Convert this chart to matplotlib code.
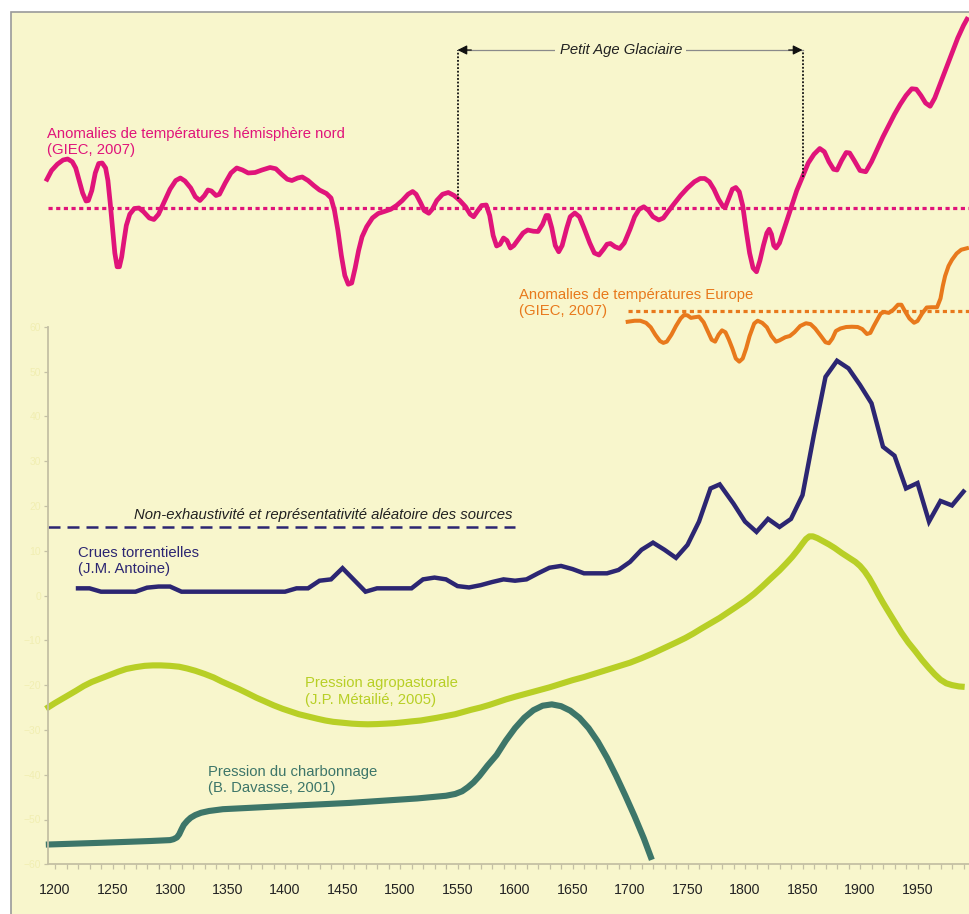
import numpy as np
import matplotlib
matplotlib.use("Agg")
import matplotlib.pyplot as plt
from matplotlib.patches import Rectangle

plt.rcParams['font.family'] = ['Liberation Sans', 'DejaVu Sans']

# ---------------- data ----------------
# Northern hemisphere temperature anomalies (°C, smoothed)
nh_years = [1193, 1197, 1202, 1207, 1211, 1215, 1218, 1221, 1224, 1227, 1229, 1232, 1235, 1238,
            1241, 1244, 1246, 1248, 1250, 1252, 1254, 1256, 1258, 1260, 1262, 1265, 1269, 1273,
            1277, 1282, 1286, 1290, 1295, 1300, 1305, 1309, 1313, 1318, 1322, 1326, 1330, 1333,
            1336, 1340, 1343, 1348, 1353, 1358, 1363, 1368, 1374, 1380, 1387, 1392, 1397, 1402,
            1406, 1411, 1415, 1420, 1425, 1430, 1436, 1440, 1443, 1446, 1449, 1452, 1455, 1458,
            1461, 1464, 1467, 1471, 1476, 1481, 1487, 1492, 1497, 1502, 1507, 1511, 1514, 1518,
            1521, 1525, 1528, 1532, 1537, 1542, 1547, 1552, 1557, 1561, 1564, 1567, 1571, 1575,
            1578, 1581, 1584, 1587, 1590, 1593, 1596, 1599, 1603, 1607, 1611, 1616, 1620, 1624,
            1627, 1629, 1632, 1635, 1638, 1641, 1645, 1648, 1652, 1656, 1660, 1665, 1669, 1673,
            1677, 1680, 1683, 1687, 1691, 1695, 1700, 1704, 1708, 1712, 1716, 1720, 1725, 1729,
            1733, 1738, 1744, 1750, 1756, 1761, 1765, 1769, 1773, 1777, 1781, 1783, 1786, 1789,
            1792, 1795, 1798, 1801, 1804, 1807, 1810, 1813, 1816, 1819, 1821, 1823, 1825, 1827,
            1830, 1835, 1840, 1845, 1850, 1855, 1860, 1865, 1869, 1873, 1877, 1880, 1884, 1888,
            1891, 1895, 1900, 1905, 1910, 1915, 1920, 1925, 1930, 1935, 1940, 1945, 1949, 1953,
            1957, 1961, 1965, 1970, 1975, 1980, 1985, 1990, 1993]
nh_anom = [0.115, 0.150, 0.175, 0.192, 0.196, 0.185, 0.160, 0.110, 0.060, 0.028, 0.030, 0.070,
           0.140, 0.178, 0.180, 0.160, 0.110, 0.020, -0.080, -0.180, -0.235, -0.235, -0.195,
           -0.130, -0.070, -0.025, -0.002, 0.000, -0.015, -0.040, -0.046, -0.025, 0.025, 0.075,
           0.110, 0.120, 0.108, 0.080, 0.045, 0.030, 0.050, 0.072, 0.068, 0.050, 0.055, 0.100,
           0.140, 0.160, 0.152, 0.140, 0.142, 0.152, 0.162, 0.157, 0.135, 0.115, 0.110, 0.120,
           0.124, 0.110, 0.090, 0.072, 0.058, 0.040, -0.010, -0.090, -0.190, -0.270, -0.305,
           -0.300, -0.240, -0.170, -0.115, -0.075, -0.040, -0.022, -0.013, -0.005, 0.010, 0.030,
           0.055, 0.066, 0.055, 0.020, -0.010, -0.021, -0.005, 0.030, 0.055, 0.062, 0.050,
           0.030, 0.005, -0.025, -0.035, -0.015, 0.010, 0.012, -0.030, -0.110, -0.152, -0.145,
           -0.120, -0.130, -0.160, -0.150, -0.125, -0.100, -0.088, -0.093, -0.094, -0.065,
           -0.030, -0.030, -0.080, -0.150, -0.175, -0.150, -0.080, -0.035, -0.020, -0.035,
           -0.080, -0.140, -0.180, -0.188, -0.165, -0.145, -0.142, -0.155, -0.162, -0.140,
           -0.085, -0.035, -0.005, 0.005, -0.010, -0.035, -0.048, -0.040, -0.015, 0.015, 0.050,
           0.080, 0.105, 0.118, 0.118, 0.105, 0.075, 0.035, 0.005, 0.005, 0.040, 0.075, 0.082,
           0.065, 0.010, -0.090, -0.180, -0.240, -0.255, -0.210, -0.150, -0.100, -0.085, -0.105,
           -0.150, -0.160, -0.140, -0.070, 0.000, 0.070, 0.125, 0.180, 0.215, 0.238, 0.225,
           0.185, 0.155, 0.152, 0.190, 0.222, 0.220, 0.190, 0.150, 0.145, 0.185, 0.235, 0.285,
           0.330, 0.375, 0.415, 0.450, 0.477, 0.475, 0.450, 0.420, 0.407, 0.440, 0.500, 0.560,
           0.620, 0.680, 0.730, 0.755]

# European temperature anomalies (°C, smoothed)
eu_years = [1698, 1704, 1709, 1714, 1718, 1722, 1726, 1729, 1732, 1736, 1740, 1744, 1747, 1750,
            1753, 1756, 1760, 1764, 1768, 1771, 1774, 1777, 1780, 1783, 1786, 1789, 1792, 1795,
            1798, 1801, 1804, 1808, 1811, 1815, 1819, 1823, 1827, 1830, 1835, 1839, 1843, 1848,
            1853, 1857, 1861, 1866, 1870, 1873, 1876, 1879, 1883, 1888, 1893, 1898, 1902, 1906,
            1909, 1912, 1915, 1918, 1921, 1925, 1929, 1933, 1936, 1939, 1943, 1947, 1950, 1954,
            1958, 1962, 1967, 1970, 1972, 1974, 1977, 1980, 1984, 1988, 1993]
eu_anom = [-0.086, -0.078, -0.078, -0.095, -0.13, -0.19, -0.24, -0.255, -0.245, -0.19, -0.12,
           -0.06, -0.032, -0.035, -0.055, -0.05, -0.045, -0.09, -0.17, -0.23, -0.245, -0.19,
           -0.155, -0.17, -0.23, -0.30, -0.38, -0.405, -0.38, -0.30, -0.20, -0.10, -0.078,
           -0.095, -0.13, -0.20, -0.245, -0.235, -0.21, -0.20, -0.17, -0.12, -0.098, -0.105,
           -0.14, -0.20, -0.25, -0.258, -0.22, -0.16, -0.14, -0.128, -0.126, -0.128, -0.145,
           -0.184, -0.175, -0.12, -0.07, -0.02, -0.008, -0.015, 0.01, 0.05, 0.05, 0.0, -0.06,
           -0.094, -0.08, -0.02, 0.028, 0.03, 0.03, 0.10, 0.20, 0.28, 0.36, 0.41, 0.46, 0.49,
           0.502]

# Torrential floods (index)
crues_years = [1220, 1230, 1240, 1270, 1280, 1290, 1300, 1310, 1400, 1410, 1420, 1430, 1440,
               1450, 1470, 1480, 1510, 1520, 1530, 1540, 1550, 1560, 1570, 1580, 1590, 1600,
               1610, 1620, 1630, 1640, 1650, 1660, 1680, 1690, 1700, 1710, 1720, 1730, 1740,
               1750, 1760, 1770, 1778, 1790, 1800, 1810, 1820, 1830, 1840, 1850, 1860, 1870,
               1880, 1890, 1900, 1910, 1920, 1930, 1940, 1950, 1960, 1970, 1980, 1990]
crues_vals = [1.6, 1.6, 0.85, 0.85, 1.75, 2.0, 2.0, 0.85, 0.85, 1.6, 1.6, 3.3, 3.6, 6.1, 0.85,
              1.6, 1.6, 3.6, 4.0, 3.6, 2.1, 1.8, 2.3, 3.0, 3.6, 3.3, 3.6, 4.95, 6.2, 6.6, 5.9,
              4.95, 4.95, 5.7, 7.5, 10.2, 11.8, 10.2, 8.4, 11.3, 16.5, 23.9, 24.8, 20.5, 16.5,
              14.2, 17.1, 15.3, 17.1, 22.4, 36.0, 48.8, 52.4, 50.7, 47.0, 42.9, 33.2, 31.2, 23.9,
              25.1, 16.5, 21.1, 20.1, 23.2]

# Agro-pastoral pressure (index)
agro_years = [1192, 1200, 1210, 1218, 1225, 1232, 1240, 1248, 1255, 1262, 1270, 1278, 1285,
              1292, 1300, 1308, 1315, 1322, 1330, 1338, 1345, 1352, 1360, 1368, 1375, 1383,
              1390, 1398, 1405, 1412, 1420, 1428, 1435, 1442, 1450, 1458, 1465, 1472, 1480,
              1488, 1495, 1503, 1510, 1518, 1525, 1532, 1540, 1548, 1555, 1562, 1570, 1578,
              1585, 1592, 1600, 1610, 1620, 1630, 1640, 1650, 1660, 1670, 1680, 1690, 1700,
              1710, 1720, 1730, 1740, 1748, 1755, 1762, 1770, 1778, 1785, 1792, 1800, 1808,
              1815, 1822, 1830, 1836, 1841, 1846, 1850, 1853, 1856, 1859, 1863, 1868, 1873,
              1878, 1884, 1890, 1896, 1900, 1904, 1908, 1912, 1916, 1920, 1924, 1930, 1936,
              1942, 1948, 1954, 1960, 1965, 1970, 1975, 1980, 1986, 1991]
agro_vals = [-25.3, -24.0, -22.5, -21.3, -20.2, -19.3, -18.5, -17.7, -17.0, -16.4, -16.0, -15.7,
             -15.6, -15.6, -15.7, -15.9, -16.3, -16.8, -17.5, -18.3, -19.2, -20.0, -20.9, -21.9,
             -22.8, -23.7, -24.5, -25.3, -25.9, -26.5, -27.0, -27.5, -27.9, -28.2, -28.4, -28.6,
             -28.7, -28.75, -28.7, -28.6, -28.5, -28.3, -28.1, -27.9, -27.6, -27.3, -26.9, -26.5,
             -26.0, -25.5, -25.0, -24.4, -23.8, -23.2, -22.6, -21.9, -21.2, -20.5, -19.7, -18.9,
             -18.2, -17.4, -16.6, -15.8, -15.0, -14.0, -12.9, -11.7, -10.5, -9.5, -8.5, -7.4,
             -6.2, -5.0, -3.8, -2.6, -1.2, 0.4, 2.0, 3.7, 5.6, 7.2, 8.6, 10.2, 11.6, 12.6, 13.2,
             13.2, 12.8, 12.1, 11.4, 10.6, 9.5, 8.5, 7.5, 6.6, 5.4, 3.9, 2.1, 0.2, -1.6, -3.3,
             -5.8, -8.3, -10.5, -12.4, -14.4, -16.2, -17.6, -18.8, -19.6, -20.0, -20.3, -20.4]

# Charcoal-burning pressure (index)
charb_years = [1192, 1240, 1283, 1300, 1303, 1306, 1308, 1310, 1312, 1315, 1318, 1322, 1327,
               1334, 1346, 1400, 1456, 1515, 1540, 1548, 1554, 1559, 1564, 1569, 1576, 1584,
               1592, 1600, 1608, 1616, 1624, 1632, 1640, 1648, 1656, 1664, 1672, 1680, 1688,
               1696, 1704, 1712, 1719]
charb_vals = [-55.6, -55.2, -54.8, -54.6, -54.4, -54.0, -53.3, -52.2, -51.2, -50.3, -49.6,
              -49.0, -48.5, -48.1, -47.7, -47.0, -46.3, -45.3, -44.7, -44.3, -43.7, -42.8, -41.7,
              -40.3, -38.0, -35.6, -32.4, -29.6, -27.3, -25.6, -24.6, -24.3, -24.7, -25.7, -27.3,
              -29.6, -32.6, -36.2, -40.3, -44.7, -49.3, -54.2, -59.0]

# Little Ice Age bounds and source-coverage threshold
pag_start, pag_end = 1550, 1850
sources_level, sources_end = 15.3, 1600

x_ticks = list(range(1200, 2000, 50))
y_ticks = list(range(-60, 61, 10))

# ---------------- styling ----------------
BG = '#f8f6cc'
PINK = '#e0147a'
ORANGE = '#e8791c'
NAVY = '#2c2672'
LIME = '#b8cf26'
TEAL = '#3d7669'
SPINE = '#c4c0a4'
LS = 1.2

W, H = 970, 914
fig = plt.figure(figsize=(W / 100, H / 100), dpi=100, facecolor='white')
fig.patches.append(Rectangle((11 / W, -0.01), 1.1, 1 - 12 / H + 0.01, transform=fig.transFigure,
                             facecolor=BG, edgecolor='#9a9a9a', lw=1.2, zorder=-10))

XLIM = (1193.9, 1995.65)
L, R = 48 / W, 1.0


def frac(px):
    return 1 - px / H


ax = fig.add_axes([L, frac(864.3), R - L, frac(326.7) - frac(864.3)])
ax.patch.set_alpha(0)
ax.set_xlim(*XLIM)
ax.set_ylim(-60, 60)
for s in ('top', 'right'):
    ax.spines[s].set_visible(False)
for s in ('left', 'bottom'):
    ax.spines[s].set_color(SPINE)
    ax.spines[s].set_linewidth(1.3)
ax.set_xticks(x_ticks)
ax.set_xticks(list(range(1200, 2000, 10)), minor=True)
ax.set_yticks(y_ticks)
ax.tick_params(axis='x', which='both', direction='out', length=3.5, width=0.9, color=SPINE,
               labelsize=10.2, labelcolor='#222222', pad=10)
ax.tick_params(axis='y', direction='out', length=3, width=0.9, color=SPINE,
               labelsize=7.5, labelcolor='#f1eeb2', pad=2)

# lower panel series
ax.plot([XLIM[0], sources_end], [sources_level, sources_level], color=NAVY, lw=1.8,
        linestyle=(0, (4.8, 2.8)), dash_capstyle='butt')
ax.text(sources_end - 2, 18.0, 'Non-exhaustivité et représentativité aléatoire des sources',
        ha='right', va='center', fontsize=10.7, style='italic', color='#222222')
ax.plot(crues_years, crues_vals, color=NAVY, lw=3.2, solid_joinstyle='miter')
ax.text(1220, 11.15, 'Crues torrentielles\n(J.M. Antoine)', ha='left', va='top',
        fontsize=10.7, color=NAVY, linespacing=LS)
ax.plot(agro_years, agro_vals, color=LIME, lw=4.4, clip_on=False, solid_capstyle='butt')
ax.text(1417, -18.05, 'Pression agropastorale\n(J.P. Métailié, 2005)', ha='left', va='top',
        fontsize=10.7, color=LIME, linespacing=LS)
ax.plot(charb_years, charb_vals, color=TEAL, lw=4.4, clip_on=False, solid_capstyle='butt')
ax.text(1333, -37.75, 'Pression du charbonnage\n(B. Davasse, 2001)', ha='left', va='top',
        fontsize=10.7, color=TEAL, linespacing=LS)


def overlay(top_px, bot_px, base_px, px_per_unit):
    a = fig.add_axes([L, frac(bot_px), R - L, frac(top_px) - frac(bot_px)])
    a.set_xlim(*XLIM)
    a.set_ylim((base_px - bot_px) / px_per_unit, (base_px - top_px) / px_per_unit)
    a.axis('off')
    a.patch.set_alpha(0)
    return a


# Northern hemisphere panel
ax_nh = overlay(0, 330, 208, 250)
ax_nh.plot(XLIM, [0, 0], color=PINK, lw=2.3, linestyle=(0, (1.3, 1.1)), dash_capstyle='butt')
ax_nh.plot(nh_years, nh_anom, color=PINK, lw=3.4, clip_on=False)
ax_nh.text(1193, 0.323, 'Anomalies de températures hémisphère nord\n(GIEC, 2007)', ha='left',
           va='top', fontsize=10.7, color=PINK, linespacing=LS)

# Little Ice Age bracket
top_y = 0.632
for yr in (pag_start, pag_end):
    ax_nh.plot([yr, yr], [np.interp(yr, nh_years, nh_anom), top_y], color='#111111', lw=1.3,
               linestyle=(0, (1, 1)))
ax_nh.plot([pag_start, pag_end], [top_y, top_y], color='#8a8a8a', lw=0.9)
for tip, tail in ((pag_start, pag_start + 12), (pag_end, pag_end - 12)):
    ax_nh.annotate('', xy=(tip, top_y), xytext=(tail, top_y),
                   arrowprops=dict(arrowstyle='-|>', color='#111111', lw=0.9,
                                   mutation_scale=14, shrinkA=0, shrinkB=0))
ax_nh.text((pag_start + pag_end) / 2 - 8, top_y, 'Petit Age Glaciaire', ha='center',
           va='center', fontsize=10.7, style='italic', color='#222222',
           bbox=dict(facecolor=BG, edgecolor='none', pad=3))

# European panel
ax_eu = overlay(230, 380, 311, 125)
ax_eu.plot([eu_years[0], XLIM[1]], [0, 0], color=ORANGE, lw=2.3, linestyle=(0, (1.3, 1.1)),
           dash_capstyle='butt')
ax_eu.plot(eu_years, eu_anom, color=ORANGE, lw=2.9, clip_on=False)
ax_eu.text(1603.5, 0.184, 'Anomalies de températures Europe\n(GIEC, 2007)', ha='left', va='top',
           fontsize=10.7, color=ORANGE, linespacing=LS)

fig.savefig('out.png', dpi=100, facecolor='white')
